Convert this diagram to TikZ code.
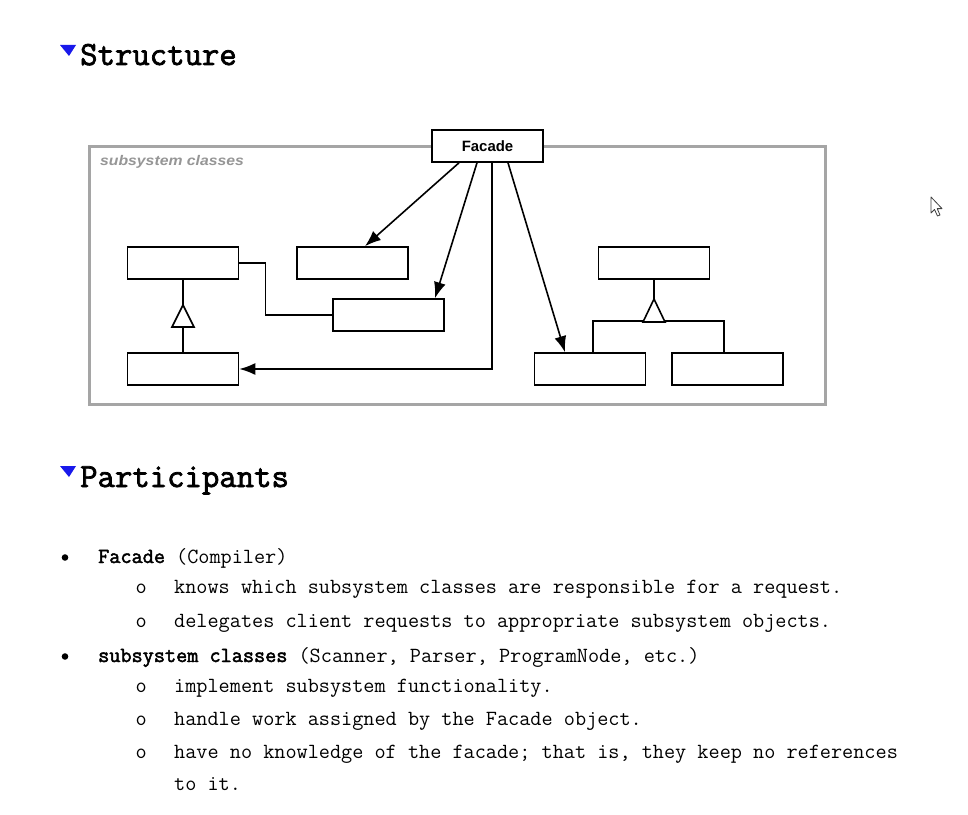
\documentclass[tikz,border=0pt]{standalone}
\usepackage{fontspec}
\newfontfamily\sansf{Liberation Sans}
\newfontfamily\monof{Latin Modern Mono}
\newfontfamily\monobf{Latin Modern Mono}[FakeBold=2.2]
\usetikzlibrary{arrows.meta}
\definecolor{framegray}{RGB}{165,165,165}
\definecolor{labelgray}{RGB}{150,150,150}
\definecolor{markblue}{RGB}{25,25,235}
\begin{document}
\begin{tikzpicture}[x=1bp,y=-1bp,
  cls/.style={draw, line width=1.6bp, fill=white, minimum width=111bp, minimum height=32bp, inner sep=0pt},
  conn/.style={line width=1.6bp},
  arr/.style={conn, -{Latex[length=16bp,width=12bp]}},
  txt/.style={anchor=base west, inner sep=0pt, font=\monof\fontsize{21.7}{23}\selectfont},
  head/.style={anchor=base west, inner sep=0pt, font=\monobf\fontsize{33.9}{36}\selectfont},
  inh/.style={draw, line width=1.6bp, fill=white},
]
\useasboundingbox[fill=white] (0,0) rectangle (968,815);

% headings
\fill[markblue] (60,45) -- (76,45) -- (69,56) -- cycle;
\node[head] (h1) at (80,65) {Structure};
\fill[markblue] (60,466) -- (76,466) -- (69,477) -- cycle;
\node[head] (h2) at (80,487) {Participants};

% frame
\node[draw=framegray, line width=3bp, minimum width=735bp, minimum height=257bp, inner sep=0pt] (frame) at (457.5,275.5) {};
\node[anchor=base west, inner sep=0pt, text=labelgray, font=\sansf\bfseries\itshape\fontsize{14}{16}\selectfont] (lbl) at (100,165) {\scalebox{1.13}[1]{subsystem classes}};

% boxes
\node[cls] (Fa) at (487.5,146) {\sansf\bfseries\fontsize{15}{17}\selectfont Facade};
\node[cls] (A) at (183,263) {};
\node[cls] (B) at (352.5,263) {};
\node[cls] (C) at (388.5,315) {};
\node[cls] (D) at (183,369) {};
\node[cls] (E) at (654,263) {};
\node[cls] (F) at (590,369) {};
\node[cls] (G) at (727.5,369) {};

% association A -- C
\draw[conn] (A.east) -- ++(26,0) |- (C.west);

% inheritance left
\coordinate (t1) at (183,305);
\draw[conn] (A.south) -- (t1);
\draw[conn] (t1) ++(0,22) -- (D.north);
\draw[inh] (t1) -- ++(-11,22) -- ++(22,0) -- cycle;

% inheritance right
\coordinate (t2) at (654,299);
\draw[conn] (E.south) -- (t2);
\draw[conn] ([xshift=3bp]F.north) -- ++(0,-31) -| ([xshift=-3.5bp]G.north);
\draw[inh] (t2) -- ++(-11,23) -- ++(22,0) -- cycle;

% facade arrows
\draw[arr] ([xshift=-28.5bp]Fa.south) -- ([xshift=12.5bp]B.north);
\draw[arr] ([xshift=-10.5bp]Fa.south) -- ([xshift=46.5bp]C.north);
\draw[arr] ([xshift=4.5bp]Fa.south) |- (D.east);
\draw[arr] ([xshift=20.5bp]Fa.south) -- ([xshift=-25bp]F.north);

% cursor
\draw[line width=0.8bp, draw=black!75, fill=white, line join=round]
  (931,197) -- (931,213) -- (934.5,209.5) -- (937.5,216) -- (940,215) -- (937.2,208.6) -- (942,208.6) -- cycle;

% participants list
\fill (65,557.5) circle (3.3);
\node[txt] (p1) at (98,563) {{\monobf Facade} (Compiler)};
\node[txt] (o1) at (135.5,593) {o};
\node[txt] (p1a) at (174,593) {knows which subsystem classes are responsible for a request.};
\node[txt] (o2) at (135.5,627) {o};
\node[txt] (p1b) at (174,627) {delegates client requests to appropriate subsystem objects.};
\fill (65,656.5) circle (3.3);
\node[txt] (p2) at (98,662) {{\monobf subsystem classes} (Scanner, Parser, ProgramNode, etc.)};
\node[txt] (o3) at (135.5,692) {o};
\node[txt] (p2a) at (174,692) {implement subsystem functionality.};
\node[txt] (o4) at (135.5,725) {o};
\node[txt] (p2b) at (174,725) {handle work assigned by the Facade object.};
\node[txt] (o5) at (135.5,758) {o};
\node[txt] (p2c) at (174,758) {have no knowledge of the facade; that is, they keep no references};
\node[txt] (p2d) at (174,790) {to it.};
\end{tikzpicture}
\end{document}
